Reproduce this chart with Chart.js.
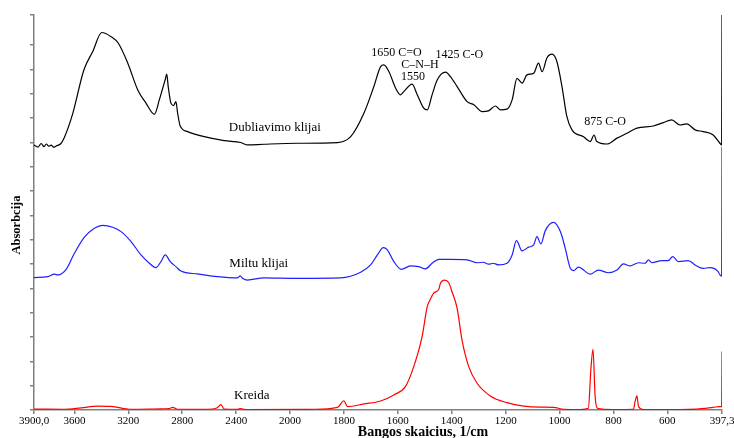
<!DOCTYPE html>
<html>
<head>
<meta charset="utf-8">
<script src="https://cdn.jsdelivr.net/npm/chart.js@4.4.1/dist/chart.umd.min.js"></script>
<style>
html,body{margin:0;padding:0;background:#fff;}
canvas{display:block;}
</style>
</head>
<body>
<canvas id="c" width="734" height="438"></canvas>
<script>
// ---- data (wavenumber, cm-1 / absorbance, offset units) ----
const wnBlack = [3900,3870,3847,3825,3809,3790,3772,3755,3735,3700,3674,3612,3530,3464,3397,3328,3274,3204,3130,3069,3007,2970,2945,2925,2915,2904,2884,2864,2847,2834,2815,2760,2637,2489,2365,2315,2193,1973,1824,1775,1726,1689,1664,1652,1633,1608,1590,1578,1547,1528,1504,1491,1473,1454,1423,1405,1380,1343,1318,1287,1264,1238,1220,1195,1176,1158,1139,1121,1096,1078,1065,1047,1028,1010,991,973,954,911,886,872,862,824,787,750,713,652,615,584,553,528,497,467,430,405,398.5,397.3];
const absBlack = [10.89,10.80,10.95,10.82,10.93,10.84,10.88,10.80,10.85,10.95,11.21,12.19,13.97,14.73,15.51,15.34,15.07,14.25,13.15,12.61,12.15,12.74,13.22,13.60,13.80,13.29,12.61,12.51,12.67,12.19,11.67,11.44,11.23,11.07,10.99,10.89,10.92,10.96,10.99,11.23,12.19,13.29,14.11,14.18,13.90,13.22,12.95,13.08,13.39,12.95,12.40,12.33,12.95,13.56,13.88,13.70,13.29,12.67,12.54,12.26,12.29,12.49,12.33,12.36,12.74,13.63,13.43,13.77,13.84,14.25,13.90,14.46,14.62,14.32,13.29,12.06,11.51,11.23,11.03,11.30,11.03,10.93,11.17,11.37,11.58,11.67,11.81,11.92,11.71,11.76,11.51,11.44,11.30,10.96,10.89,16.23];

const wnBlue = [3900,3797,3748,3723,3661,3600,3526,3452,3390,3316,3254,3180,3106,3044,2995,2958,2926,2889,2847,2810,2686,2538,2390,2370,2350,2316,2193,1973,1812,1738,1701,1676,1654,1639,1615,1587,1553,1523,1497,1473,1448,1405,1343,1306,1283,1263,1246,1226,1195,1176,1160,1139,1115,1096,1084,1069,1053,1022,997,979,960,948,930,886,856,819,787,763,738,707,683,670,657,621,597,580,559,522,497,467,442,411,405,398.5,397.3];
const absBlue = [5.44,5.48,5.58,5.55,5.78,6.44,7.10,7.47,7.59,7.51,7.33,6.92,6.37,6.03,5.85,6.10,6.37,6.10,5.89,5.71,5.59,5.48,5.43,5.51,5.40,5.34,5.43,5.41,5.43,5.66,5.96,6.37,6.67,6.58,6.10,5.78,5.92,5.89,5.80,6.03,6.19,6.19,6.17,6.05,6.07,5.99,6.03,5.96,6.03,6.37,6.96,6.54,6.69,6.78,7.12,6.82,7.37,7.71,7.33,6.65,5.82,5.73,5.87,5.58,5.75,5.64,5.75,6.00,5.92,6.05,6.03,6.17,6.05,6.14,6.14,6.30,6.10,6.14,5.96,5.82,5.85,5.68,5.55,5.50,10.82];

const wnRed = [3900,3674,3550,3427,3328,3180,2958,2899,2871,2834,2612,2543,2513,2489,2390,2365,2335,1911,1824,1800,1787,1726,1664,1615,1572,1541,1510,1491,1482,1467,1448,1442,1427,1411,1399,1380,1362,1337,1306,1257,1195,1133,1072,1022,985,923,893,884,876,868,859,800,726,720,713,707,689,553,491,430,407,398.5,397.3];
const absRed = [0.04,0.03,0.09,0.16,0.15,0.03,0.05,0.06,0.11,0.03,0.03,0.08,0.22,0.04,0.03,0.06,0.02,0.03,0.11,0.38,0.14,0.25,0.37,0.62,0.96,1.78,3.01,4.25,4.49,4.80,4.96,5.21,5.34,5.23,4.86,4.18,2.88,1.78,1.10,0.58,0.30,0.16,0.12,0.11,0.03,0.02,0.07,1.64,2.49,0.55,0.07,0.02,0.03,0.34,0.58,0.14,0.02,0.02,0.04,0.11,0.14,0.14,2.40];

const seriesNames = ["Dubliavimo klijai","Miltu klijai","Kreida"];
const xTickValues = [3900,3600,3200,2800,2400,2000,1800,1600,1400,1200,1000,800,600,397.3];
const xTickLabels = ["3900,0","3600","3200","2800","2400","2000","1800","1600","1400","1200","1000","800","600","397,3"];
const yTickValues = [0,1,2,3,4,5,6,7,8,9,10,11,12,13,14,15,16.23];

// annotations: [text, wavenumber, value, fontsize]
const labels = [
  ["Dubliavimo klijai", 2113, 11.59, 13],
  ["Miltu klijai", 2232, 6.02, 13],
  ["Kreida", 2284, 0.58, 13],
  ["1650 C=O", 1605, 14.67, 12],
  ["C\u2013N\u2013H", 1518, 14.18, 12],
  ["1550", 1544, 13.69, 12],
  ["1425 C-O", 1372, 14.59, 12],
  ["875 C-O", 831, 11.82, 12]
];

// FTIR axis: scale above 2000 cm-1 compressed by half
function u(wn){ return wn <= 2000 ? wn : 2000 + (wn - 2000) / 2; }
function pts(w, a){ return w.map((x, i) => ({x: u(x), y: a[i]})); }

const SERIF = "'Liberation Serif','Times New Roman',serif";

const textPlugin = {
  id: 'texts',
  afterDatasetsDraw(chart){
    const ctx = chart.ctx, xs = chart.scales.x, ys = chart.scales.y;
    ctx.save();
    ctx.fillStyle = '#000';
    ctx.textAlign = 'center';
    ctx.textBaseline = 'middle';
    labels.forEach(l => {
      ctx.font = l[3] + 'px ' + SERIF;
      ctx.fillText(l[0], xs.getPixelForValue(u(l[1])), ys.getPixelForValue(l[2]));
    });
    // axis titles
    ctx.font = 'bold 14px ' + SERIF;
    ctx.fillText('Bangos skaicius, 1/cm', 423, 432);
    ctx.translate(17, 225);
    ctx.rotate(-Math.PI / 2);
    ctx.font = 'bold 12.5px ' + SERIF;
    ctx.fillText('Absorbcija', 0, 0);
    ctx.restore();
  }
};

const bg = {
  id: 'bg',
  beforeDraw(chart){
    const c = chart.ctx; c.save(); c.fillStyle = '#fff';
    c.fillRect(0, 0, chart.width, chart.height); c.restore();
  }
};

new Chart(document.getElementById('c'), {
  type: 'line',
  data: {
    datasets: [
      {label: seriesNames[0], data: pts(wnBlack, absBlack), borderColor: '#000000', borderWidth: 1.2},
      {label: seriesNames[1], data: pts(wnBlue, absBlue), borderColor: '#1f1fff', borderWidth: 1.2},
      {label: seriesNames[2], data: pts(wnRed, absRed), borderColor: '#ff0000', borderWidth: 1.2}
    ]
  },
  options: {
    responsive: false,
    animation: false,
    layout: {padding: {top: 15, right: 12, left: 0, bottom: 0}},
    elements: {point: {radius: 0}, line: {cubicInterpolationMode: 'monotone', fill: false}},
    plugins: {legend: {display: false}, tooltip: {enabled: false}},
    scales: {
      x: {
        type: 'linear',
        reverse: true,
        min: u(397.3),
        max: u(3900),
        afterBuildTicks(scale){ scale.ticks = xTickValues.map(w => ({value: u(w)})); },
        afterFit(scale){ scale.height = 28; scale.paddingLeft = 0; scale.paddingRight = 0; },
        ticks: {
          autoSkip: false, maxRotation: 0, padding: 1,
          color: '#000', font: {family: SERIF, size: 11},
          callback: (v, i) => xTickLabels[i]
        },
        grid: {drawOnChartArea: false, drawTicks: true, tickLength: 4, color: '#808080', lineWidth: 1.5},
        border: {display: true, color: '#808080', width: 1.5}
      },
      y: {
        type: 'linear',
        min: 0,
        max: 16.23,
        afterBuildTicks(scale){ scale.ticks = yTickValues.map(v => ({value: v})); },
        afterFit(scale){ scale.width = 34; scale.paddingTop = 0; scale.paddingBottom = 0; },
        ticks: {display: true, callback: () => ''},
        grid: {drawOnChartArea: false, drawTicks: true, tickLength: 4, color: '#808080', lineWidth: 1.5},
        border: {display: true, color: '#808080', width: 1.5}
      }
    }
  },
  plugins: [bg, textPlugin]
});
</script>
</body>
</html>
